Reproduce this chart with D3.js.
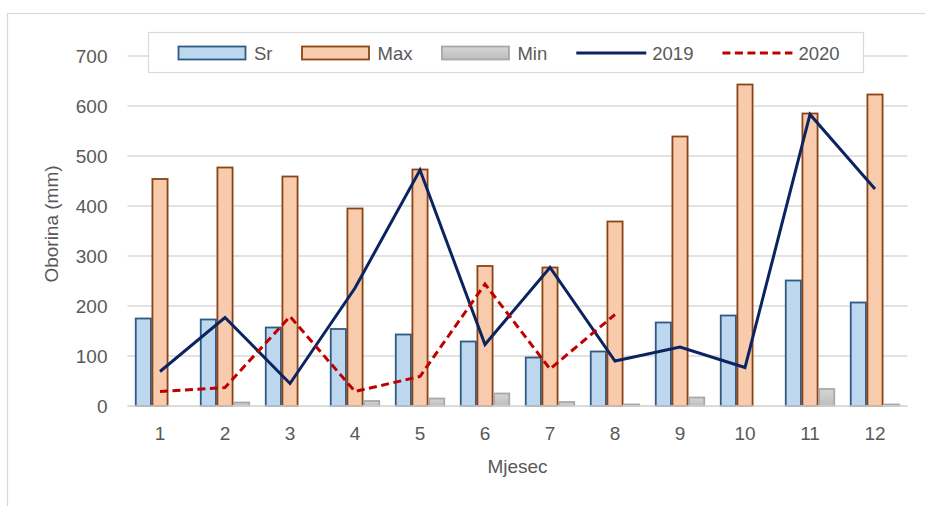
<!DOCTYPE html>
<html>
<head>
<meta charset="utf-8">
<script src="https://cdn.jsdelivr.net/npm/d3@7"></script>
<style>
  html, body { margin: 0; padding: 0; background: #fff; }
  svg { display: block; font-family: "Liberation Sans", Arial, sans-serif; }
</style>
</head>
<body>
<svg id="chart" width="925" height="506"></svg>
<script>
// Monthly precipitation (mm)
const months = ["1", "2", "3", "4", "5", "6", "7", "8", "9", "10", "11", "12"];
const srValues  = [175, 173, 157, 154, 143, 129, 97, 109, 167, 181, 251, 207];
const maxValues = [454, 477, 459, 395, 473, 280, 277, 369, 539, 643, 585, 623];
const minValues = [0, 7, 0, 10, 15, 25, 8, 3, 17, 0, 34, 3];
const y2019 = [69, 177, 45, 236, 472, 123, 277, 90, 118, 77, 583, 434];
const y2020 = [29, 37, 179, 29, 59, 244, 74, 183, null, null, null, null];
const yTicks = [0, 100, 200, 300, 400, 500, 600, 700];
const barSeries = ["Sr", "Max", "Min"];
const lineSeries = ["2019", "2020"];

const svg = d3.select("#chart");
const plot = { left: 127.5, right: 907.5, top: 56, bottom: 406 };

const defs = svg.append("defs");
const grad = defs.append("linearGradient").attr("id", "minFill")
  .attr("x1", 0).attr("y1", 0).attr("x2", 0).attr("y2", 1);
grad.append("stop").attr("offset", "0%").attr("stop-color", "#d6d6d6");
grad.append("stop").attr("offset", "100%").attr("stop-color", "#bdbdbd");

const style = {
  Sr:  { fill: "#bdd7ee", stroke: "#2f5a86" },
  Max: { fill: "#f8cbad", stroke: "#8a4416" },
  Min: { fill: "url(#minFill)", stroke: "#a8a8a8" },
  "2019": { stroke: "#0b2460", dash: null },
  "2020": { stroke: "#c00000", dash: "8,4.5" }
};

// chart frame
svg.append("rect")
  .attr("x", 7.5).attr("y", 13.5).attr("width", 1000).attr("height", 1000)
  .attr("fill", "#fff").attr("stroke", "#d9d9d9").attr("stroke-width", 1.2);

const x0 = d3.scaleBand().domain(months).range([plot.left, plot.right])
  .paddingInner(15 / 65).paddingOuter(7.5 / 65);
const x1 = d3.scaleBand().domain(barSeries).range([0, x0.bandwidth()]);
const y = d3.scaleLinear().domain([0, 700]).range([plot.bottom, plot.top]);

// gridlines
svg.append("g").selectAll("line").data(yTicks).join("line")
  .attr("x1", plot.left).attr("x2", plot.right)
  .attr("y1", d => y(d)).attr("y2", d => y(d))
  .attr("stroke", "#d9d9d9").attr("stroke-width", 1.5);

// y axis labels
const yAxis = svg.append("g").attr("transform", `translate(${plot.left},0)`)
  .call(d3.axisLeft(y).tickValues(yTicks).tickSize(0).tickPadding(20));
yAxis.select(".domain").remove();
yAxis.selectAll("text").attr("font-size", 19).attr("fill", "#595959")
  .attr("font-family", "Liberation Sans, Arial, sans-serif");

// x axis labels
const xAxis = svg.append("g").attr("transform", `translate(0,${plot.bottom})`)
  .call(d3.axisBottom(x0).tickSize(0).tickPadding(21));
xAxis.select(".domain").remove();
xAxis.selectAll("text").attr("font-size", 19).attr("fill", "#595959")
  .attr("font-family", "Liberation Sans, Arial, sans-serif");

// bars
const barData = months.map((m, i) => ({
  month: m,
  values: [
    { key: "Sr", v: srValues[i] },
    { key: "Max", v: maxValues[i] },
    { key: "Min", v: minValues[i] }
  ]
}));
const groups = svg.append("g").selectAll("g").data(barData).join("g")
  .attr("transform", d => `translate(${x0(d.month)},0)`);
groups.selectAll("rect").data(d => d.values.filter(b => b.v > 0)).join("rect")
  .attr("x", d => x1(d.key) + 0.75)
  .attr("width", x1.bandwidth() - 1.5)
  .attr("y", d => y(d.v))
  .attr("height", d => y(0) - y(d.v))
  .attr("fill", d => style[d.key].fill)
  .attr("stroke", d => style[d.key].stroke)
  .attr("stroke-width", 1.8);

// baseline
svg.append("line")
  .attr("x1", plot.left).attr("x2", plot.right)
  .attr("y1", y(0)).attr("y2", y(0))
  .attr("stroke", "#d9d9d9").attr("stroke-width", 1.5);

// lines
const lineGen = d3.line()
  .defined(d => d.v !== null)
  .x(d => x0(d.month) + x0.bandwidth() / 2)
  .y(d => y(d.v));
[["2019", y2019], ["2020", y2020]].forEach(([key, vals]) => {
  const pts = months.map((m, i) => ({ month: m, v: vals[i] }));
  svg.append("path").datum(pts)
    .attr("d", lineGen)
    .attr("fill", "none")
    .attr("stroke", style[key].stroke)
    .attr("stroke-width", 3)
    .attr("stroke-dasharray", style[key].dash)
    .attr("stroke-linejoin", "miter");
});

// axis titles
svg.append("text")
  .attr("transform", "translate(58,224) rotate(-90)")
  .attr("text-anchor", "middle")
  .attr("font-size", 19).attr("fill", "#595959")
  .text("Oborina (mm)");
svg.append("text")
  .attr("x", (plot.left + plot.right) / 2).attr("y", 473)
  .attr("text-anchor", "middle")
  .attr("font-size", 19).attr("fill", "#595959")
  .text("Mjesec");

// legend
const legend = svg.append("g");
legend.append("rect")
  .attr("x", 148.5).attr("y", 32.5).attr("width", 715).attr("height", 40)
  .attr("fill", "#fff").attr("stroke", "#d9d9d9").attr("stroke-width", 1.2);
let lx = 178;
barSeries.concat(lineSeries).forEach(key => {
  const g = legend.append("g");
  if (barSeries.includes(key)) {
    g.append("rect").attr("x", lx + 0.5).attr("y", 46.5).attr("width", 67).attr("height", 13)
      .attr("fill", style[key].fill).attr("stroke", style[key].stroke).attr("stroke-width", 1.8);
  } else {
    g.append("line").attr("x1", lx).attr("x2", lx + 70).attr("y1", 53).attr("y2", 53)
      .attr("stroke", style[key].stroke).attr("stroke-width", 3)
      .attr("stroke-dasharray", style[key].dash);
  }
  const t = g.append("text").attr("x", lx + 76).attr("y", 59.5)
    .attr("font-size", 18.5).attr("fill", "#595959").text(key);
  lx += 76 + t.node().getComputedTextLength() + 29;
});
</script>
</body>
</html>
